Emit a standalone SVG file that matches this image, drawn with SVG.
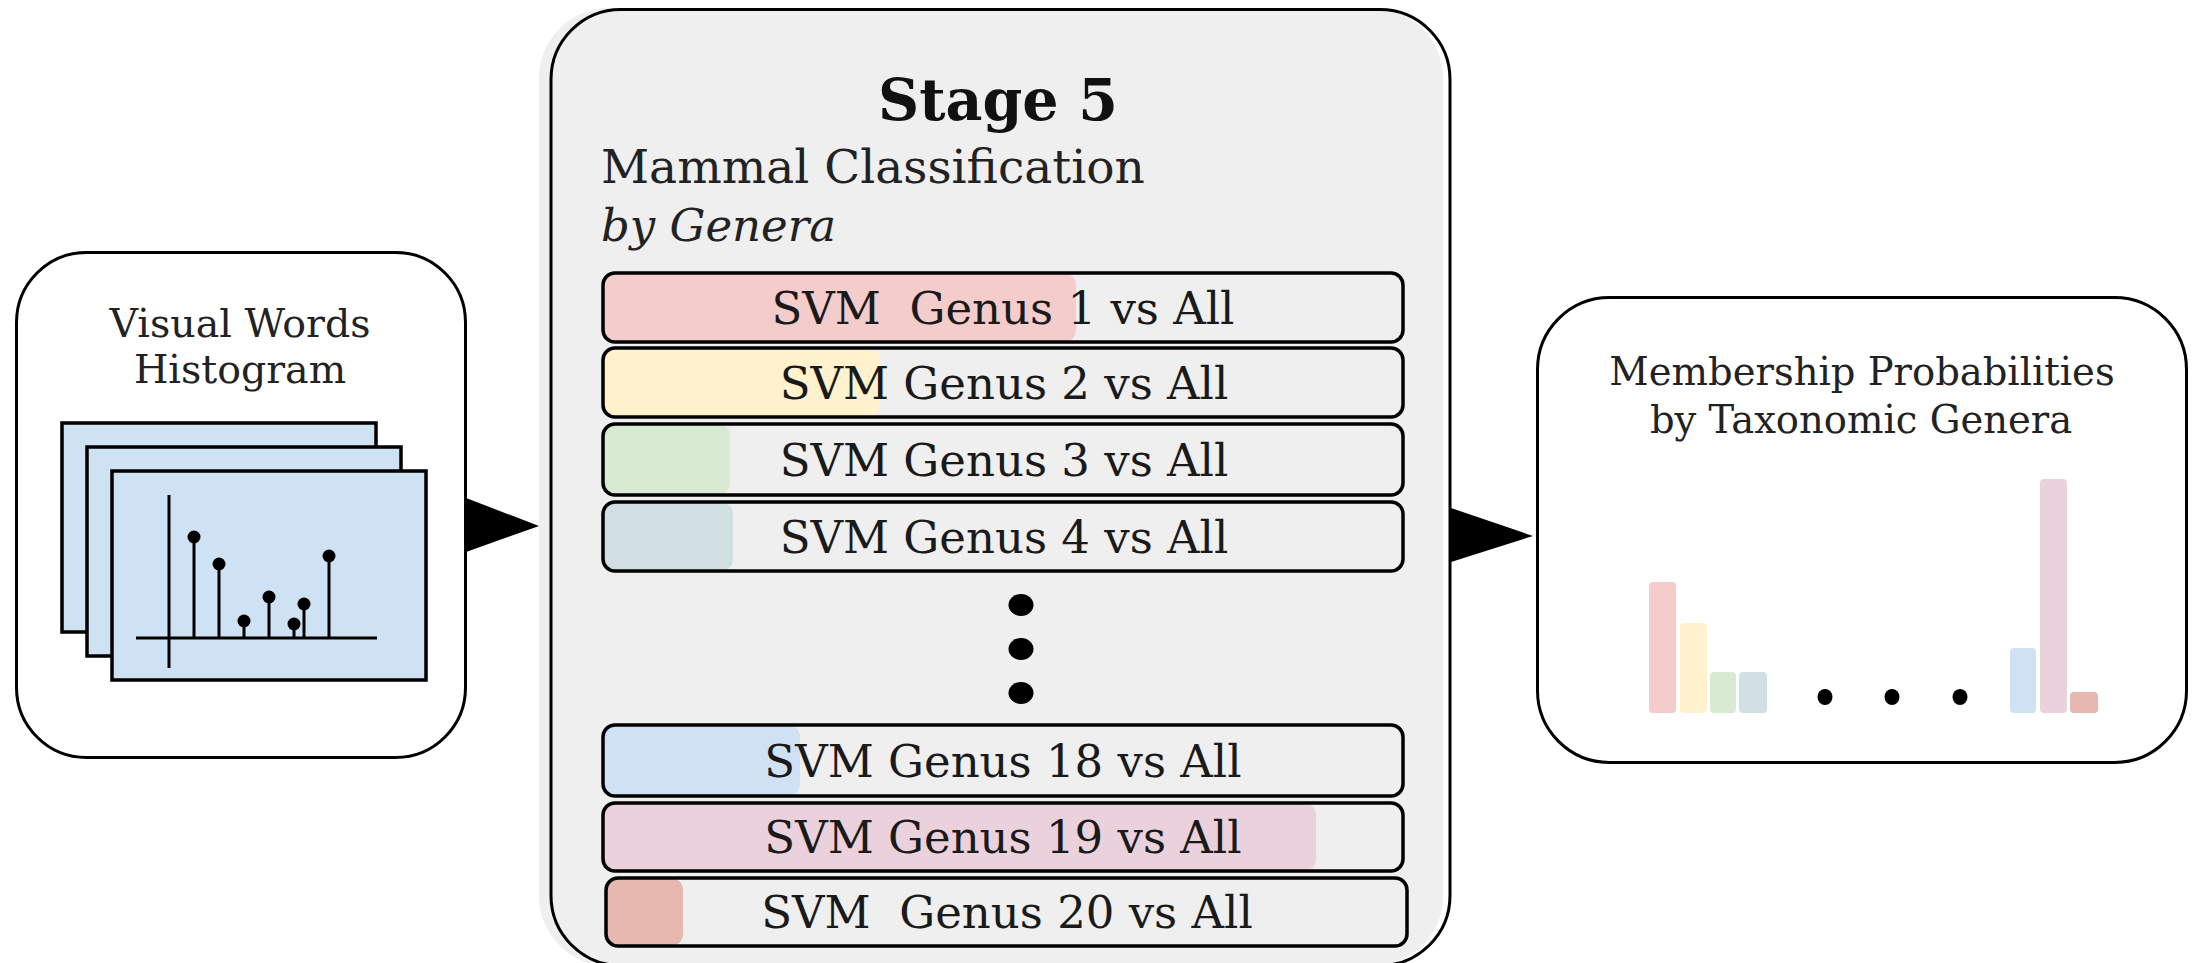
<svg xmlns="http://www.w3.org/2000/svg" width="2193" height="963" viewBox="0 0 2193 963">
<style>
  .box { fill: #ffffff; stroke: #000000; stroke-width: 3; }
  .lbl { font-family: "DejaVu Serif", "Liberation Serif", serif; fill: #222222; }
  .row { fill: none; stroke: #000000; stroke-width: 3.5; }
  .rowbg { fill: #efefef; }
  .rowtxt { font-family: "DejaVu Serif", "Liberation Serif", serif; font-size: 45px; fill: #1a1a1a; text-anchor: middle; }
  .card { fill: #cfe2f3; stroke: #000000; stroke-width: 3.5; }
  .ax { stroke: #000000; stroke-width: 3; fill: none; }
  .bar { stroke: none; }
</style>
<rect x="0" y="0" width="2193" height="963" fill="#ffffff"/>

<g id="visual-words">
  <rect class="box" x="16.5" y="252.5" width="449" height="505" rx="70"/>
  <text class="lbl" x="240" y="337" font-size="39.5" text-anchor="middle">Visual Words</text>
  <text class="lbl" x="240" y="383" font-size="39.5" text-anchor="middle">Histogram</text>
  <rect class="card" x="62" y="423" width="314" height="209"/>
  <rect class="card" x="87" y="447" width="314" height="209"/>
  <rect class="card" x="112" y="471" width="314" height="209"/>
  <g class="ax">
    <line x1="169" y1="495" x2="169" y2="668"/>
    <line x1="136" y1="638" x2="377" y2="638"/>
    <line x1="194" y1="538" x2="194" y2="638"/>
    <line x1="219" y1="565" x2="219" y2="638"/>
    <line x1="244" y1="622" x2="244" y2="638"/>
    <line x1="269" y1="598" x2="269" y2="638"/>
    <line x1="294" y1="625" x2="294" y2="638"/>
    <line x1="304" y1="605" x2="304" y2="638"/>
    <line x1="329" y1="557" x2="329" y2="638"/>
  </g>
  <g fill="#000000">
    <circle cx="194" cy="537" r="6.5"/>
    <circle cx="219" cy="564" r="6.5"/>
    <circle cx="244" cy="621" r="6.5"/>
    <circle cx="269" cy="597" r="6.5"/>
    <circle cx="294" cy="624" r="6.5"/>
    <circle cx="304" cy="604" r="6.5"/>
    <circle cx="329" cy="556" r="6.5"/>
  </g>
</g>

<g id="stage5">
  <rect x="539" y="8" width="904" height="958" rx="70" fill="#efefef"/>
  <rect x="551" y="9.5" width="899" height="956" rx="70" fill="none" stroke="#000000" stroke-width="3"/>
  <text x="998" y="120" font-family="DejaVu Serif, Liberation Serif, serif" font-weight="bold" font-size="57" fill="#111111" text-anchor="middle">Stage 5</text>
  <text class="lbl" x="601" y="183" font-size="47">Mammal Classification</text>
  <text class="lbl" x="601" y="241" font-size="45" font-style="italic">by Genera</text>

  <g id="svm1">
    <rect class="rowbg" x="603" y="273" width="800" height="69" rx="12"/>
    <rect fill="#f4cccc" x="603" y="273" width="473" height="69" rx="12"/>
    <rect class="row" x="603" y="273" width="800" height="69" rx="12"/>
    <text class="rowtxt" x="1003" y="324" xml:space="preserve">SVM  Genus 1 vs All</text>
  </g>
  <g id="svm2">
    <rect class="rowbg" x="603" y="348" width="800" height="69" rx="12"/>
    <rect fill="#fff2cc" x="603" y="348" width="277" height="69" rx="12"/>
    <rect class="row" x="603" y="348" width="800" height="69" rx="12"/>
    <text class="rowtxt" x="1004" y="399">SVM Genus 2 vs All</text>
  </g>
  <g id="svm3">
    <rect class="rowbg" x="603" y="424" width="800" height="71" rx="12"/>
    <rect fill="#d9ead3" x="603" y="424" width="127" height="71" rx="12"/>
    <rect class="row" x="603" y="424" width="800" height="71" rx="12"/>
    <text class="rowtxt" x="1004" y="476">SVM Genus 3 vs All</text>
  </g>
  <g id="svm4">
    <rect class="rowbg" x="603" y="502" width="800" height="69" rx="12"/>
    <rect fill="#d0e0e3" x="603" y="502" width="130" height="69" rx="12"/>
    <rect class="row" x="603" y="502" width="800" height="69" rx="12"/>
    <text class="rowtxt" x="1004" y="553">SVM Genus 4 vs All</text>
  </g>
  <g id="ellipsis" fill="#000000">
    <ellipse cx="1021" cy="605" rx="12.5" ry="11"/>
    <ellipse cx="1021" cy="649" rx="12.5" ry="11"/>
    <ellipse cx="1021" cy="693" rx="12.5" ry="11"/>
  </g>
  <g id="svm18">
    <rect class="rowbg" x="603" y="725" width="800" height="71" rx="12"/>
    <rect fill="#cfe2f3" x="603" y="725" width="197" height="71" rx="12"/>
    <rect class="row" x="603" y="725" width="800" height="71" rx="12"/>
    <text class="rowtxt" x="1003" y="777">SVM Genus 18 vs All</text>
  </g>
  <g id="svm19">
    <rect class="rowbg" x="603" y="803" width="800" height="68" rx="12"/>
    <rect fill="#ead1dc" x="603" y="803" width="713" height="68" rx="12"/>
    <rect class="row" x="603" y="803" width="800" height="68" rx="12"/>
    <text class="rowtxt" x="1003" y="853">SVM Genus 19 vs All</text>
  </g>
  <g id="svm20">
    <rect class="rowbg" x="606" y="878" width="801" height="68" rx="12"/>
    <rect fill="#e6b8af" x="606" y="878" width="77" height="68" rx="12"/>
    <rect class="row" x="606" y="878" width="801" height="68" rx="12"/>
    <text class="rowtxt" x="1007" y="928" xml:space="preserve">SVM  Genus 20 vs All</text>
  </g>
</g>

<g id="membership">
  <rect class="box" x="1537.5" y="297.5" width="649" height="465" rx="72"/>
  <text class="lbl" x="1862" y="385" font-size="38.5" text-anchor="middle">Membership Probabilities</text>
  <text class="lbl" x="1861" y="433" font-size="38.5" text-anchor="middle">by Taxonomic Genera</text>
  <rect class="bar" fill="#f4cccc" x="1649" y="582" width="27" height="131" rx="4"/>
  <rect class="bar" fill="#fff2cc" x="1680" y="623" width="27" height="90" rx="4"/>
  <rect class="bar" fill="#d9ead3" x="1710" y="672" width="26" height="41" rx="4"/>
  <rect class="bar" fill="#d0e0e3" x="1739" y="672" width="28" height="41" rx="4"/>
  <g fill="#000000">
    <ellipse cx="1825" cy="697" rx="7.5" ry="8"/>
    <ellipse cx="1892" cy="697" rx="7.5" ry="8"/>
    <ellipse cx="1960" cy="697" rx="7.5" ry="8"/>
  </g>
  <rect class="bar" fill="#cfe2f3" x="2010" y="648" width="26" height="65" rx="4"/>
  <rect class="bar" fill="#ead1dc" x="2040" y="479" width="27" height="234" rx="4"/>
  <rect class="bar" fill="#e6b8af" x="2070" y="692" width="28" height="21" rx="4"/>
</g>

<g id="connectors" fill="#000000">
  <polygon points="466,498 539,526 466,552"/>
  <polygon points="1451,508 1533,536 1451,562"/>
</g>
</svg>
